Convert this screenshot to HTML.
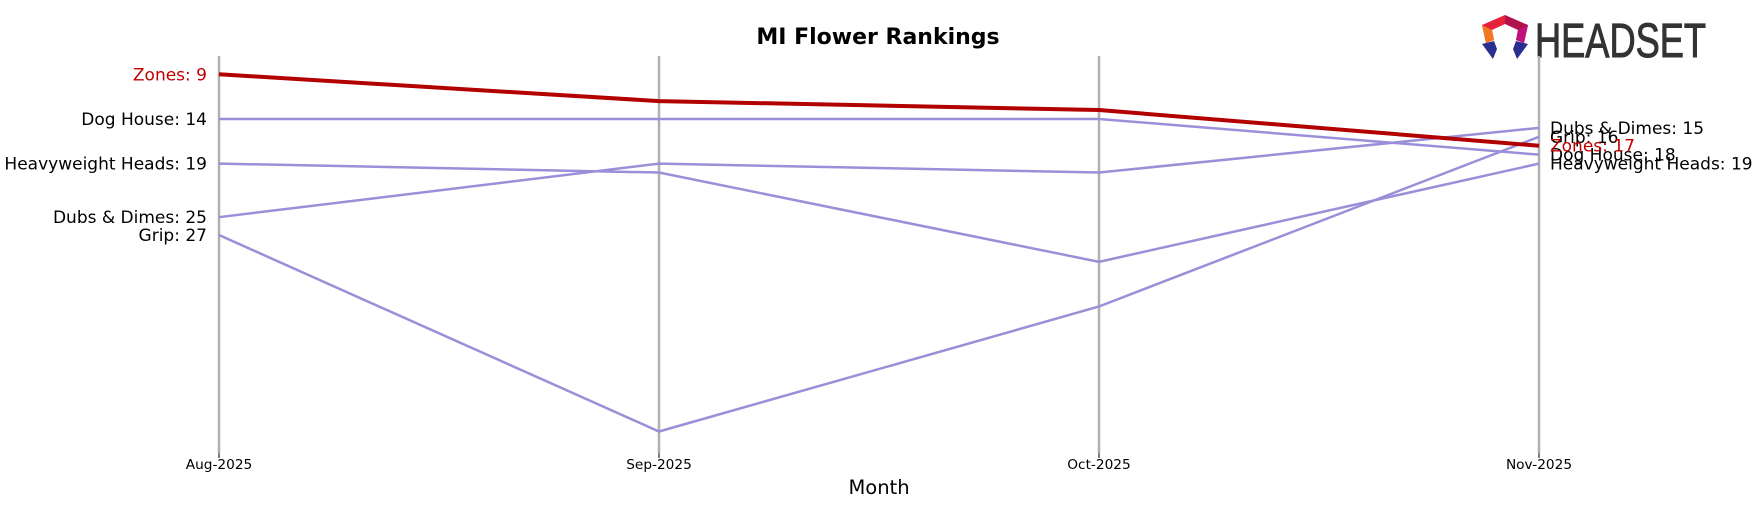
<!DOCTYPE html>
<html><head><meta charset="utf-8"><style>
html,body{margin:0;padding:0;background:#fff;}
svg{display:block;font-family:"DejaVu Sans","Liberation Sans",sans-serif;}
</style></head><body>
<svg id="chart" width="1758" height="507" viewBox="0 0 1758 507" xmlns="http://www.w3.org/2000/svg">
<text x="878" y="44" text-anchor="middle" font-size="22" font-weight="bold">MI Flower Rankings</text>
<g>
<polygon points="1505,15 1482,25 1486,43 1494,40 1492,30 1505,24" fill="#e8203a"/>
<polygon points="1505,15 1528,25 1524,43 1516,40 1518,30 1505,24" fill="#b0124a"/>
<polygon points="1482,25 1486,43 1494,40 1492,30" fill="#f07a22"/>
<polygon points="1528,25 1524,43 1516,40 1518,30" fill="#c0127a"/>
<polygon points="1482,44 1494,41 1497,49 1493,59" fill="#2a2f8f"/>
<polygon points="1528,44 1516,41 1513,49 1517,59" fill="#2a2f8f"/>
<text x="1535" y="57" font-family="'Liberation Sans Narrow','Liberation Sans',sans-serif" font-size="48" fill="#333" stroke="#333" stroke-width="1" textLength="171" lengthAdjust="spacingAndGlyphs">HEADSET</text>
</g>
<g id="grid"></g>
<g id="series"></g>
<g id="labels"></g>
<text x="879" y="494" text-anchor="middle" font-size="19.5">Month</text>
</svg>
<script>
const months = ["Aug-2025","Sep-2025","Oct-2025","Nov-2025"];
const brands = ["Dog House","Heavyweight Heads","Dubs & Dimes","Grip","Zones"];
const rankDogHouse = [14,14,14,18];
const rankHeavyweight = [19,20,30,19];
const rankDubs = [25,19,20,15];
const rankGrip = [27,49,35,16];
const rankZones = [9,12,13,17];
const seriesRanks = [rankDogHouse, rankHeavyweight, rankDubs, rankGrip, rankZones];
const NS = "http://www.w3.org/2000/svg";
const x = i => 219 + i * (1539 - 219) / (months.length - 1);
const y = r => 74.3 + (r - 9) * 8.93;
function mk(tag, attrs, parent) {
  const e = document.createElementNS(NS, tag);
  for (const k in attrs) e.setAttribute(k, attrs[k]);
  parent.appendChild(e); return e;
}
const grid = document.getElementById('grid');
months.forEach((m, i) => {
  const l = mk('line', {x1:x(i), x2:x(i), y1:56, y2:453, stroke:'#b0b0b0', 'stroke-width':2.5}, grid);
  
  
  const t = mk('line', {x1:x(i), x2:x(i), y1:453, y2:458, stroke:'#000', 'stroke-width':1}, grid);
  
  
  const tx = mk('text', {x:x(i), y:469, 'text-anchor':'middle', 'font-size':13.7}, grid);
  
  
  tx.textContent = m;
});
const sg = document.getElementById('series'), lg = document.getElementById('labels');
seriesRanks.forEach((arr, s) => {
  const isZ = brands[s] === 'Zones';
  const p = mk('polyline', {points: arr.map((r, i) => x(i) + ',' + y(r)).join(' '), fill:'none',
    stroke: isZ ? '#b30000' : '#9a8fd8', 'stroke-width': isZ ? 4 : 2.5}, sg);
  
  
  const col = isZ ? '#c00000' : '#000';
  const a = mk('text', {x:207, y:y(arr[0]) + 6, 'text-anchor':'end', 'font-size':17, fill:col}, lg);
  
  
  a.textContent = brands[s] + ': ' + arr[0];
  const last = arr[arr.length - 1];
  const b = mk('text', {x:1550, y:y(last) + 6, 'font-size':17, fill:col}, lg);
  
  
  b.textContent = brands[s] + ': ' + last;
});
</script>
</body></html>
